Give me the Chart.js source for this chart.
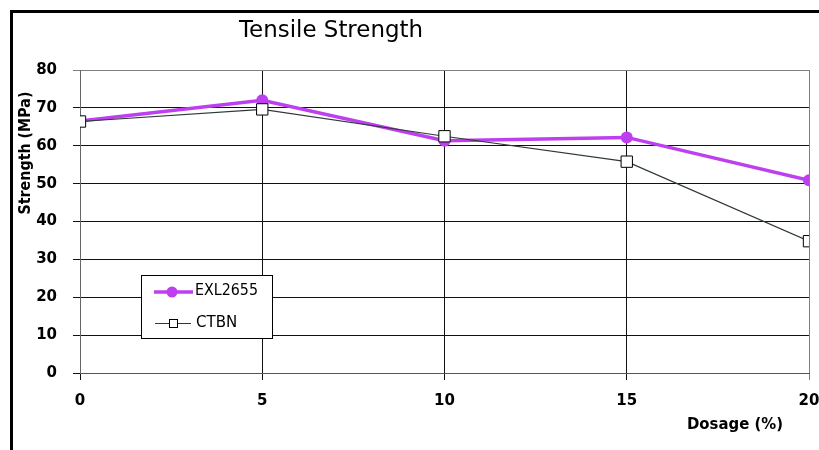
<!DOCTYPE html>
<html><head><meta charset="utf-8">
<script src="https://cdn.jsdelivr.net/npm/chart.js@4/dist/chart.umd.min.js"></script>
<style>
html,body{margin:0;padding:0;background:#fff;}
#wrap{position:relative;width:819px;height:450px;overflow:hidden;}
#frame{position:absolute;left:10px;top:10px;width:820px;height:450px;border-left:3px solid #000;border-top:3px solid #000;box-sizing:border-box;}
canvas{position:absolute;left:0;top:0;}
</style></head>
<body><div id="wrap"><div id="frame"></div><canvas id="c" width="819" height="450"></canvas></div>
<script>
const dosage = [0, 5, 10, 15, 20];
const exl2655 = [66.5, 72, 61.3, 62.2, 50.9];
const ctbn = [66.4, 69.6, 62.5, 55.8, 34.8];
const seriesNames = ['EXL2655', 'CTBN'];
const titleText = 'Tensile Strength';
const yTitle = 'Strength (MPa)';
const xTitle = 'Dosage (%)';

const purple = '#bd3ff0';
const darkLine = '#2f3a36';

const textPlugin = {
  id: 'texts',
  afterDraw(chart) {
    const ctx = chart.ctx;
    ctx.save();
    ctx.fillStyle = '#000';
    ctx.textBaseline = 'middle';
    ctx.textAlign = 'center';
    ctx.font = '23px "DejaVu Sans"';
    ctx.fillText(titleText, 331, 31, 184);
    ctx.font = 'bold 15px "DejaVu Sans"';
    ctx.fillText(xTitle, 735, 425, 96);
    ctx.translate(26, 153);
    ctx.rotate(-Math.PI / 2);
    ctx.font = 'bold 15px "DejaVu Sans"';
    ctx.fillText(yTitle, 0, 0, 123);
    ctx.restore();

    // legend box
    ctx.save();
    ctx.fillStyle = '#fff';
    ctx.fillRect(141, 275, 132, 64);
    ctx.strokeStyle = '#000';
    ctx.lineWidth = 1;
    ctx.strokeRect(141.5, 275.5, 131, 63);
    // entry 1
    ctx.strokeStyle = purple; ctx.lineWidth = 3.5;
    ctx.beginPath(); ctx.moveTo(154, 292); ctx.lineTo(193, 292); ctx.stroke();
    ctx.fillStyle = purple;
    ctx.beginPath(); ctx.arc(172, 292, 5.5, 0, Math.PI * 2); ctx.fill();
    // entry 2
    ctx.strokeStyle = darkLine; ctx.lineWidth = 1;
    ctx.beginPath(); ctx.moveTo(155, 323.5); ctx.lineTo(191, 323.5); ctx.stroke();
    ctx.fillStyle = '#fff'; ctx.fillRect(169, 319, 9, 9);
    ctx.strokeStyle = '#000'; ctx.strokeRect(169.5, 319.5, 8, 8);
    ctx.fillStyle = '#000';
    ctx.font = '15px "DejaVu Sans"';
    ctx.textAlign = 'left';
    ctx.textBaseline = 'middle';
    ctx.fillText(seriesNames[0], 195, 291, 63);
    ctx.fillText(seriesNames[1], 196, 323, 43);
    ctx.restore();
  }
};

new Chart(document.getElementById('c'), {
  type: 'line',
  data: {
    datasets: [
      {
        label: seriesNames[0],
        data: dosage.map((d, i) => ({x: d, y: exl2655[i]})),
        borderColor: purple, backgroundColor: purple,
        borderWidth: 3.5, pointRadius: 6, pointStyle: 'circle',
        pointBackgroundColor: purple, pointBorderColor: purple, pointBorderWidth: 0,
        tension: 0, order: 2
      },
      {
        label: seriesNames[1],
        data: dosage.map((d, i) => ({x: d, y: ctbn[i]})),
        borderColor: darkLine, backgroundColor: '#fff',
        borderWidth: 1.2, pointRadius: 8, pointStyle: 'rect',
        pointBackgroundColor: '#fff', pointBorderColor: '#000', pointBorderWidth: 1,
        tension: 0, order: 1
      }
    ]
  },
  options: {
    responsive: false, animation: false,
    layout: {padding: {left: 0, top: 70, right: 0, bottom: 0}},
    plugins: {legend: {display: false}, title: {display: false}, tooltip: {enabled: false}},
    scales: {
      x: {
        type: 'linear', min: 0, max: 20,
        ticks: {stepSize: 5, color: '#000', font: {family: 'DejaVu Sans', size: 15, weight: 'bold'}, padding: 12, maxRotation: 0},
        grid: {color: ctx => ctx.tick && ctx.tick.value === 20 ? '#808080' : '#111', lineWidth: 1, tickLength: 7, drawTicks: true},
        border: {display: true, color: '#555'},
        afterFit: s => { s.height = 77; s.paddingRight = 10; s.paddingLeft = 0; }
      },
      y: {
        min: 0, max: 80,
        ticks: {stepSize: 10, color: '#000', font: {family: 'DejaVu Sans', size: 15, weight: 'bold'}, padding: 16},
        grid: {color: ctx => ctx.tick && ctx.tick.value === 80 ? '#808080' : '#111', lineWidth: 1, tickLength: 7},
        border: {display: true, color: '#666'},
        afterFit: s => { s.width = 80; s.paddingTop = 0; s.paddingBottom = 0; }
      }
    }
  },
  plugins: [textPlugin]
});
</script></body></html>
